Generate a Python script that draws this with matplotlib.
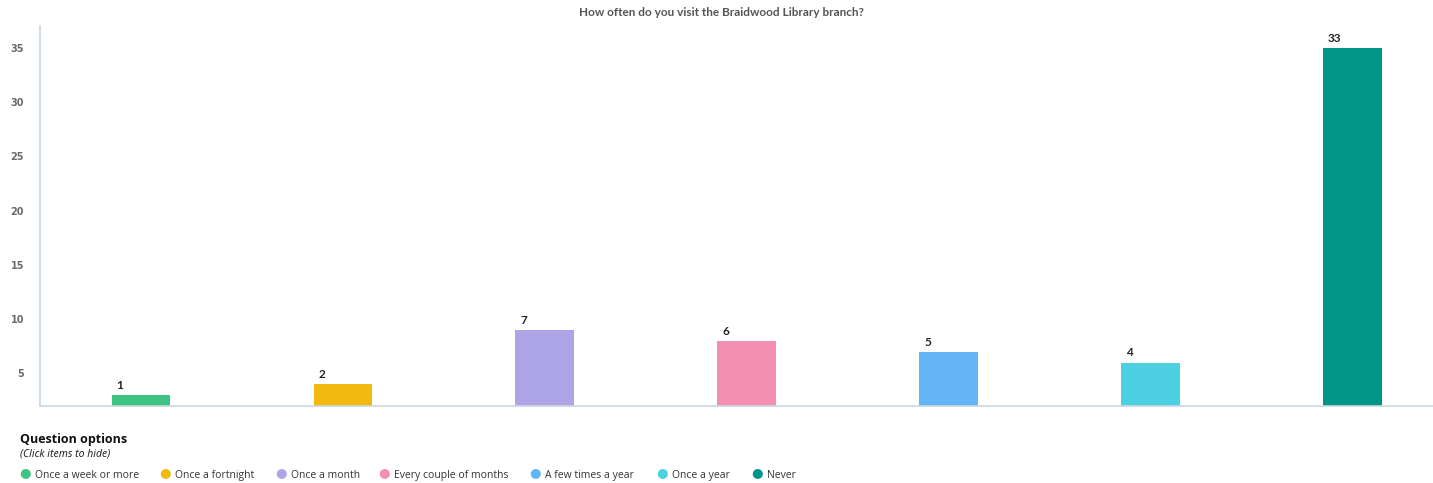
import matplotlib
matplotlib.use('Agg')
import matplotlib.pyplot as plt
from matplotlib.transforms import offset_copy

plt.rcParams['font.family'] = ['Open Sans', 'DejaVu Sans']

# survey data
options = ['Once a week or more', 'Once a fortnight', 'Once a month',
           'Every couple of months', 'A few times a year', 'Once a year', 'Never']
counts = [1, 2, 7, 6, 5, 4, 33]
colors = ['#3ec383', '#f2b90f', '#ada5e5', '#f48fb1', '#63b5f6', '#4dd0e2', '#009687']
yticks = [5, 10, 15, 20, 25, 30, 35]
baseline = 2

W, H = 1433, 483
fig = plt.figure(figsize=(W / 100, H / 100), dpi=100)
ax = fig.add_axes([40 / W, (H - 406) / H, 1 - 40 / W, (406 - 26) / H])

x = list(range(len(options)))
ax.bar(x, counts, bottom=baseline, width=0.29, color=colors, zorder=2)

# value labels, left aligned over each bar
for xi, c in zip(x, counts):
    tr = offset_copy(ax.transData, fig=fig, x=3.5, y=3, units='points')
    ax.text(xi - 0.145, c + baseline, str(c), transform=tr, ha='left', va='bottom',
            fontsize=8.5, fontweight='bold', color='#222222', family='Lato')

ax.set_xlim(-0.5, 6.4)
ax.set_ylim(baseline, 37)
ax.set_xticks([])
ax.set_yticks(yticks)
ax.set_yticklabels([str(t) for t in yticks], fontsize=7, fontweight='bold',
                   color='#6a6a6a', family='DejaVu Sans')
ax.tick_params(axis='y', length=0, pad=11.5)
for s in ['top', 'right']:
    ax.spines[s].set_visible(False)
for s in ['left', 'bottom']:
    ax.spines[s].set_color('#c9d8e3')
    ax.spines[s].set_linewidth(1.2)

fig.text(721 / W, 1 - 12 / H, 'How often do you visit the Braidwood Library branch?',
         ha='center', va='center', fontsize=8.5, fontweight='bold', color='#555555',
         family='Lato')

# legend block underneath
fig.text(20 / W, 1 - 440 / H, 'Question options', ha='left', va='center',
         fontsize=9, fontweight='bold', color='#111111')
fig.text(20 / W, 1 - 454 / H, '(Click items to hide)', ha='left', va='center',
         fontsize=7.5, style='italic', color='#222222', family='Noto Sans')
legend_x = [25, 165, 281, 384, 535, 662, 757]
for lx, name, col in zip(legend_x, options, colors):
    fig.text(lx / W, 1 - 473 / H, '\u25CF', ha='center', va='center',
             fontsize=9.5, color=col, family='DejaVu Sans')
    fig.text((lx + 10) / W, 1 - 474 / H, name, ha='left', va='center_baseline',
             fontsize=7.5, color='#333333')

fig.savefig('out.png', dpi=100)
